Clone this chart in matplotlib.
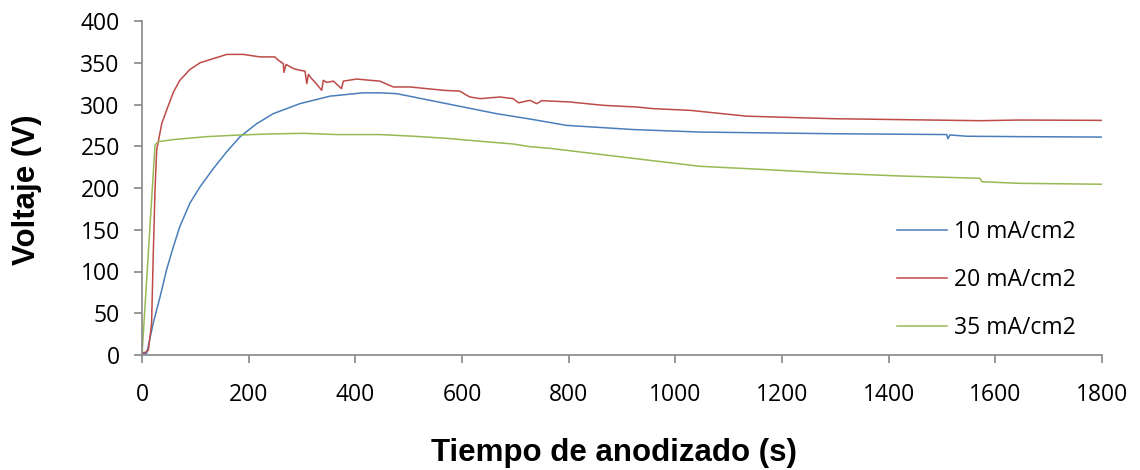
import matplotlib
matplotlib.use("Agg")
import matplotlib.pyplot as plt

# ---- data ----
t_10 = [0, 8.8, 21, 34, 46, 59, 71, 90, 109, 134, 159, 184, 215, 246, 296, 352.5, 415,
        446, 477.5, 540, 602.5, 665, 727.5, 796, 921, 1046, 1296, 1509, 1511, 1515,
        1546, 1646, 1800]
v_10 = [2, 2, 38, 70, 102, 130, 154, 182, 201.6, 223.5, 243.5, 261.5, 277, 289, 301, 310, 314,
        314, 313, 305, 297, 289, 282.6, 275, 270, 267, 265, 264, 259, 263.5,
        262, 261.5, 261]

t_20 = [0, 6, 12, 18, 21, 24.4, 27.5, 37, 46, 59, 71, 90, 109, 134, 159, 190, 221, 249,
        255.6, 265, 266,
        270, 284, 296, 305.6, 309, 312, 318, 324, 337, 340, 346, 359, 374, 377.5,
        402.5, 427.5, 446, 471, 502.5, 534, 565, 596, 609, 615, 634, 671, 696, 706,
        727.5, 740, 749.5, 802.5, 865, 927.5, 959, 1027.5, 1134, 1296, 1571, 1646, 1800]
v_20 = [3, 3, 6, 38, 118, 197.6, 245.5, 277, 293, 315, 329, 342, 350, 355, 360, 360, 357, 357,
        353, 349, 338.5,
        348, 343, 341, 340, 325, 336, 331, 327, 317, 329, 326.5, 328, 319, 328,
        330.5, 329, 328, 321, 321, 319, 317, 316, 311, 309, 307, 309, 307, 302,
        305, 301, 304.6, 303, 299, 297, 295, 293, 286, 283, 280.6, 281.4, 281]

t_35 = [0, 24.4, 30.6, 59, 121, 184, 240, 302.5, 365, 446, 509, 571, 634, 696,
        727.5, 765, 921, 1046, 1171, 1296, 1421, 1571, 1575, 1646, 1800]
v_35 = [0, 251.5, 255.5, 258, 261.5, 263.5, 264.7, 265.5, 264, 264, 262, 259.5,
        256, 252.7, 249.5, 247.5, 235.5, 226, 222, 217.6, 214.4, 211.6, 207.5, 205.6, 204.5]

labels = ["10 mA/cm2", "20 mA/cm2", "35 mA/cm2"]
x_ticks = [0, 200, 400, 600, 800, 1000, 1200, 1400, 1600, 1800]
y_ticks = [0, 50, 100, 150, 200, 250, 300, 350, 400]

colors = ["#4A7EBB", "#BE4B48", "#98B954"]

fig = plt.figure(figsize=(11.4, 4.7), dpi=100)
ax = fig.add_axes([142 / 1140, 1 - 355 / 470, 960 / 1140, 334 / 470])

for t, v, c, lab in zip([t_10, t_20, t_35], [v_10, v_20, v_35], colors, labels):
    ax.plot(t, v, color=c, lw=1.1, label=lab)

ax.set_xlim(0, 1800)
ax.set_ylim(0, 400)
ax.set_xticks(x_ticks)
ax.set_yticks(y_ticks)

tick_font = "Open Sans"
fs = 16.5
for lab in ax.get_xticklabels() + ax.get_yticklabels():
    lab.set_family(tick_font)
    lab.set_fontsize(fs)

for s in ["top", "right"]:
    ax.spines[s].set_visible(False)
for s in ["left", "bottom"]:
    ax.spines[s].set_color("#868686")
    ax.spines[s].set_linewidth(1.2)
ax.tick_params(axis="both", direction="out", length=6, width=1.2, color="#868686")
ax.tick_params(axis="x", pad=14)
ax.tick_params(axis="y", pad=10)

fig.text(27 / 1140, 1 - 190 / 470, "Voltaje (V)", rotation=90, ha="center", va="center",
         family="Liberation Sans", fontweight="bold", fontsize=22.5)
fig.text(614 / 1140, 1 - 453 / 470, "Tiempo de anodizado (s)", ha="center", va="center",
         family="Liberation Sans", fontweight="bold", fontsize=22.5)

leg = fig.legend(loc="center left", bbox_to_anchor=(876 / 1140, 1 - 280 / 470),
                 bbox_transform=fig.transFigure, frameon=False,
                 prop={"family": tick_font, "size": fs},
                 handlelength=2.2, handletextpad=0.3, labelspacing=1.05)

fig.savefig("out.png", dpi=100)
